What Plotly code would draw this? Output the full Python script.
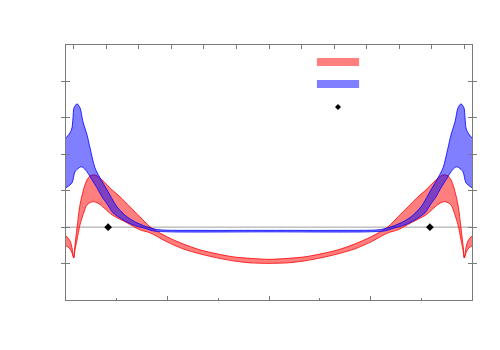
import plotly.graph_objects as go

# values, left half (x <= 0); the chart is mirror-symmetric about x=0
blue_hi_x = [-4.0, -3.921, -3.882, -3.862, -3.842, -3.783, -3.724, -3.665, -3.586, -3.527,
             -3.429, -3.330, -3.192, -2.995, -2.798, -2.601, -2.345, -2.148, -1.360, 0.0]
blue_hi_y = [2.451, 2.588, 2.726, 3.000, 3.275, 3.385, 3.275, 2.890, 2.534, 2.177,
             1.628, 1.353, 1.024, 0.557, 0.283, 0.118, -0.019, -0.074, -0.088, -0.088]

blue_lo_x = [-4.0, -3.882, -3.823, -3.744, -3.685, -3.586, -3.488, -3.389, -3.291, -3.192,
             -3.074, -2.877, -2.680, -2.483, -2.286, -1.951, 0.0]
blue_lo_y = [1.079, 1.216, 1.518, 1.628, 1.655, 1.518, 1.298, 1.079, 0.832, 0.640,
             0.393, 0.200, 0.063, -0.019, -0.102, -0.129, -0.129]

red_out_x = [-4.0, -3.921, -3.882, -3.848, -3.829, -3.783, -3.724, -3.645, -3.586, -3.527,
             -3.448, -3.389, -3.291, -3.192, -3.094, -2.936, -2.739, -2.542, -2.345, -2.010,
             -1.695, -1.360, -1.025, -0.709, -0.374, 0.0]
red_out_y = [-0.239, -0.376, -0.568, -0.843, -0.568, -0.019, 0.612, 1.079, 1.298, 1.408,
             1.436, 1.408, 1.298, 1.161, 1.024, 0.832, 0.557, 0.283, 0.008, -0.266,
             -0.459, -0.623, -0.733, -0.815, -0.857, -0.884]

red_in_x = [-4.0, -3.921, -3.882, -3.848, -3.823, -3.783, -3.724, -3.645, -3.586, -3.488,
            -3.429, -3.350, -3.251, -3.094, -2.798, -2.542, -2.345, -2.010, -1.695, -1.360,
            -1.025, -0.709, -0.374, 0.0]
red_in_y = [-0.513, -0.596, -0.705, -0.843, -0.623, -0.349, 0.063, 0.420, 0.612, 0.694,
            0.694, 0.640, 0.530, 0.338, 0.118, -0.074, -0.156, -0.404, -0.596, -0.733,
            -0.843, -0.925, -0.980, -0.994]

pts_x = [-3.17, 3.17]
pts_y = [0, 0]


def mirror(xs, ys):
    # append the right half (reflection of the left half)
    return xs + [-v for v in reversed(xs[:-1])], ys + list(reversed(ys[:-1]))


RED = "rgba(255,0,0,0.5)"
BLUE = "rgba(0,0,255,0.5)"

fig = go.Figure()

for (hx, hy), (lx, ly), fill, line in [((red_out_x, red_out_y), (red_in_x, red_in_y), RED, "rgba(255,0,0,0.8)"),
                                       ((blue_hi_x, blue_hi_y), (blue_lo_x, blue_lo_y), BLUE, "rgba(0,0,255,0.8)")]:
    x1, y1 = mirror(hx, hy)
    x2, y2 = mirror(lx, ly)
    fig.add_trace(go.Scatter(x=x1, y=y1, mode="lines", line=dict(color=line, width=1, shape="spline", smoothing=0.8),
                             showlegend=False, hoverinfo="skip"))
    fig.add_trace(go.Scatter(x=x2, y=y2, mode="lines", fill="tonexty", fillcolor=fill,
                             line=dict(color=line, width=1, shape="spline", smoothing=0.8),
                             showlegend=False, hoverinfo="skip"))

fig.add_trace(go.Scatter(x=pts_x, y=pts_y, mode="markers",
                         marker=dict(symbol="diamond", size=6, color="black"),
                         showlegend=False, hoverinfo="skip"))
# invisible trace so the top axis gets drawn
fig.add_trace(go.Scatter(x=[-6.23, 6.23], y=[None, None], xaxis="x2", mode="markers",
                         showlegend=False, hoverinfo="skip"))

FRAME = "#7a7a7a"
fig.update_layout(
    width=500, height=350,
    margin=dict(l=58, r=36, t=37, b=58),
    paper_bgcolor="white", plot_bgcolor="white",
    xaxis=dict(range=[-4, 4], dtick=2, tick0=0, ticks="inside", ticklen=4, tickcolor=FRAME,
               minor=dict(dtick=1, ticks="inside", ticklen=2, tickcolor=FRAME),
               showline=True, linecolor=FRAME, mirror=True, showgrid=False, zeroline=False,
               showticklabels=False),
    xaxis2=dict(range=[-6.23, 6.23], dtick=1, tick0=0, overlaying="x", side="top",
                ticks="inside", ticklen=4, tickcolor=FRAME, showline=False, showgrid=False,
                zeroline=False, showticklabels=False),
    yaxis=dict(range=[-2, 5], dtick=1, tick0=0, ticks="inside", ticklen=4, tickcolor=FRAME,
               showline=True, linecolor=FRAME, mirror="allticks", showgrid=False, zeroline=False,
               showticklabels=False),
    shapes=[
        dict(type="line", xref="paper", x0=0, x1=1, yref="y", y0=0, y1=0,
             line=dict(color="#a0a0a0", width=1), layer="below"),
        # key
        dict(type="rect", xref="paper", yref="paper", x0=0.618, x1=0.722, y0=0.918, y1=0.949,
             fillcolor=RED, line=dict(width=0)),
        dict(type="rect", xref="paper", yref="paper", x0=0.618, x1=0.722, y0=0.831, y1=0.863,
             fillcolor=BLUE, line=dict(width=0)),
        dict(type="path", xref="paper", yref="paper",
             path="M 0.6626,0.757 L 0.6700,0.7688 L 0.6774,0.757 L 0.6700,0.7452 Z",
             fillcolor="black", line=dict(width=0)),
    ],
)

fig.write_html("out.html")
